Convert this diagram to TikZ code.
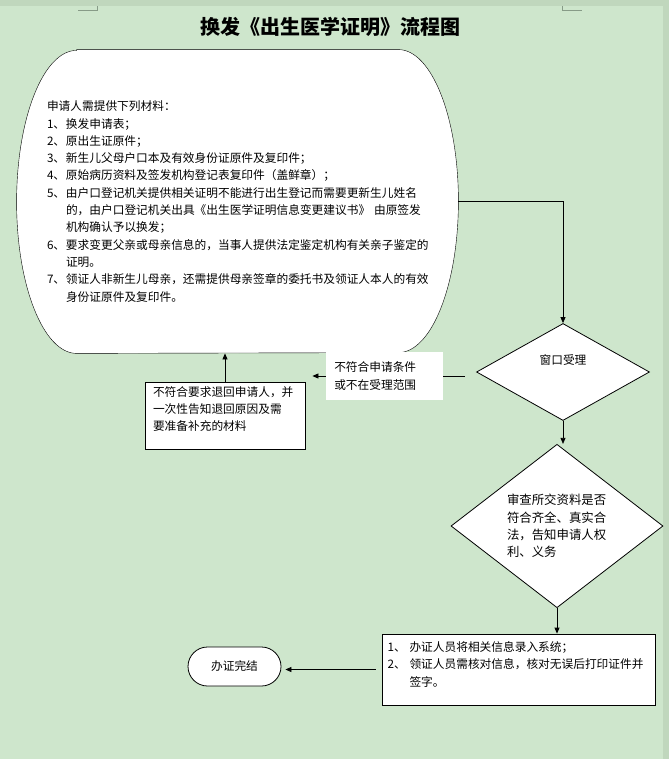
\documentclass[tikz,border=0pt]{standalone}
\usepackage{fontspec}
\setmainfont{Noto Sans CJK SC}
\usetikzlibrary{shapes,arrows.meta,positioning,calc,backgrounds}

\definecolor{pagegreen}{RGB}{206,230,204}
\definecolor{edgegreen}{RGB}{192,215,189}
\definecolor{markgray}{RGB}{135,155,135}

\newcommand{\stepno}[2][19pt]{\makebox[#1][l]{#2}}
\newcommand{\contindent}[1][19pt]{\hspace*{#1}}
\newcommand{\lowstrut}[1]{\rule[-#1]{0pt}{#1}}

\begin{document}
\begin{tikzpicture}[x=1pt, y=-1pt, line width=0.8pt,
  >={Triangle[length=6pt,width=5pt]},
  every node/.style={font=\fontsize{11.7pt}{17.3pt}\selectfont, inner sep=0pt},
  box/.style={draw, rectangle, fill=white, align=left},
  decision/.style={draw, diamond, fill=white},
  notebox/.style={fill=white, align=left, inner xsep=8pt}]
\useasboundingbox (0,0) rectangle (669,759);

% 标题
\node[font=\fontsize{20pt}{24pt}\selectfont\bfseries] (title) at (330,27) {换发《出生医学证明》流程图};

% 申请材料
\node[minimum width=441pt, minimum height=303pt, text width=381pt, align=left] (materials) at (237.5,201.5) {
申请人需提供下列材料：\\
\stepno{1、}换发申请表；\\
\stepno{2、}原出生证原件；\\
\stepno{3、}新生儿父母户口本及有效身份证原件及复印件；\\
\stepno{4、}原始病历资料及签发机构登记表复印件（盖鲜章）；\\
\stepno{5、}由户口登记机关提供相关证明不能进行出生登记而需要更新生儿姓名\\
\contindent 的，由户口登记机关出具《出生医学证明信息变更建议书》 由原签发\\
\contindent 机构确认予以换发；\\
\stepno{6、}要求变更父亲或母亲信息的，当事人提供法定鉴定机构有关亲子鉴定的\\
\contindent 证明。\\
\stepno{7、}领证人非新生儿母亲，还需提供母亲签章的委托书及领证人本人的有效\\
\contindent 身份证原件及复印件。
};

% 窗口受理
\node[decision, minimum width=173pt, minimum height=97pt] (window) at (563,372) {};
\node (windowtext) at ([yshift=12pt]window.center) {窗口受理};

% 退回申请人
\node[box, minimum width=160pt, minimum height=67pt, text width=144pt] (returnbox) at (225,415.5) {
不符合要求退回申请人，并\\
一次性告知退回原因及需\\
要准备补充的材料\lowstrut{13.5pt}
};

% 审查
\node[decision, minimum width=212pt, minimum height=153pt, text width=100pt, align=left,
  font=\fontsize{12.4pt}{17.3pt}\selectfont] (review) at (557,526) {
审查所交资料是否\\
符合齐全、真实合\\
法，告知申请人权\\
利、义务
};

% 录入与打印
\node[box, minimum width=273pt, minimum height=71pt, text width=262pt] (steps) at (518.5,669.5) {
\stepno[22pt]{1、}办证人员将相关信息录入系统；\\
\stepno[22pt]{2、}领证人员需核对信息，核对无误后打印证件并\\
\contindent[22pt]签字。\lowstrut{11.5pt}
};

% 办证完结
\node[draw, rectangle, rounded corners=19.5pt, fill=white, minimum width=93pt, minimum height=39pt] (finish) at (234.5,666.5) {办证完结};

% 关联
\draw[->] (materials.east) -| (window.north);
\draw[->, shorten <=11pt, shorten >=7pt] ([yshift=-4pt]window.west) -- node[notebox, pos=0.535, text width=101pt, minimum height=48pt] (rejectnote) {不符合申请条件\\或不在受理范围} ([yshift=-4pt]window.west -| returnbox.east);
\draw[->] (returnbox.north) -- (returnbox.north |- materials.south);
\draw[->] (window.south) -- (window.south |- review.north);
\draw[->] (review.south) -- (review.south |- steps.north);
\draw[->, shorten <=6pt, shorten >=4pt] (steps.west) -- (steps.west -| finish.east);

% 页面背景
\begin{scope}[on background layer]
\fill[pagegreen] (0,0) rectangle (669,759);
\fill[edgegreen] (0,0) rectangle (669,6);
\fill[edgegreen] (663,0) rectangle (669,759);
\draw[markgray] (78,10) -- (97.5,10) -- (97.5,6);
\draw[markgray] (562,6) -- (562,10) -- (582,10);
\draw[fill=white] ([xshift=60pt]materials.north west) -- ([xshift=-60pt]materials.north east)
  arc[start angle=90, end angle=-90, x radius=60pt, y radius=151.5pt]
  -- ([xshift=60pt]materials.south west)
  arc[start angle=270, end angle=90, x radius=60pt, y radius=151.5pt] -- cycle;
\end{scope}
\end{tikzpicture}
\end{document}
